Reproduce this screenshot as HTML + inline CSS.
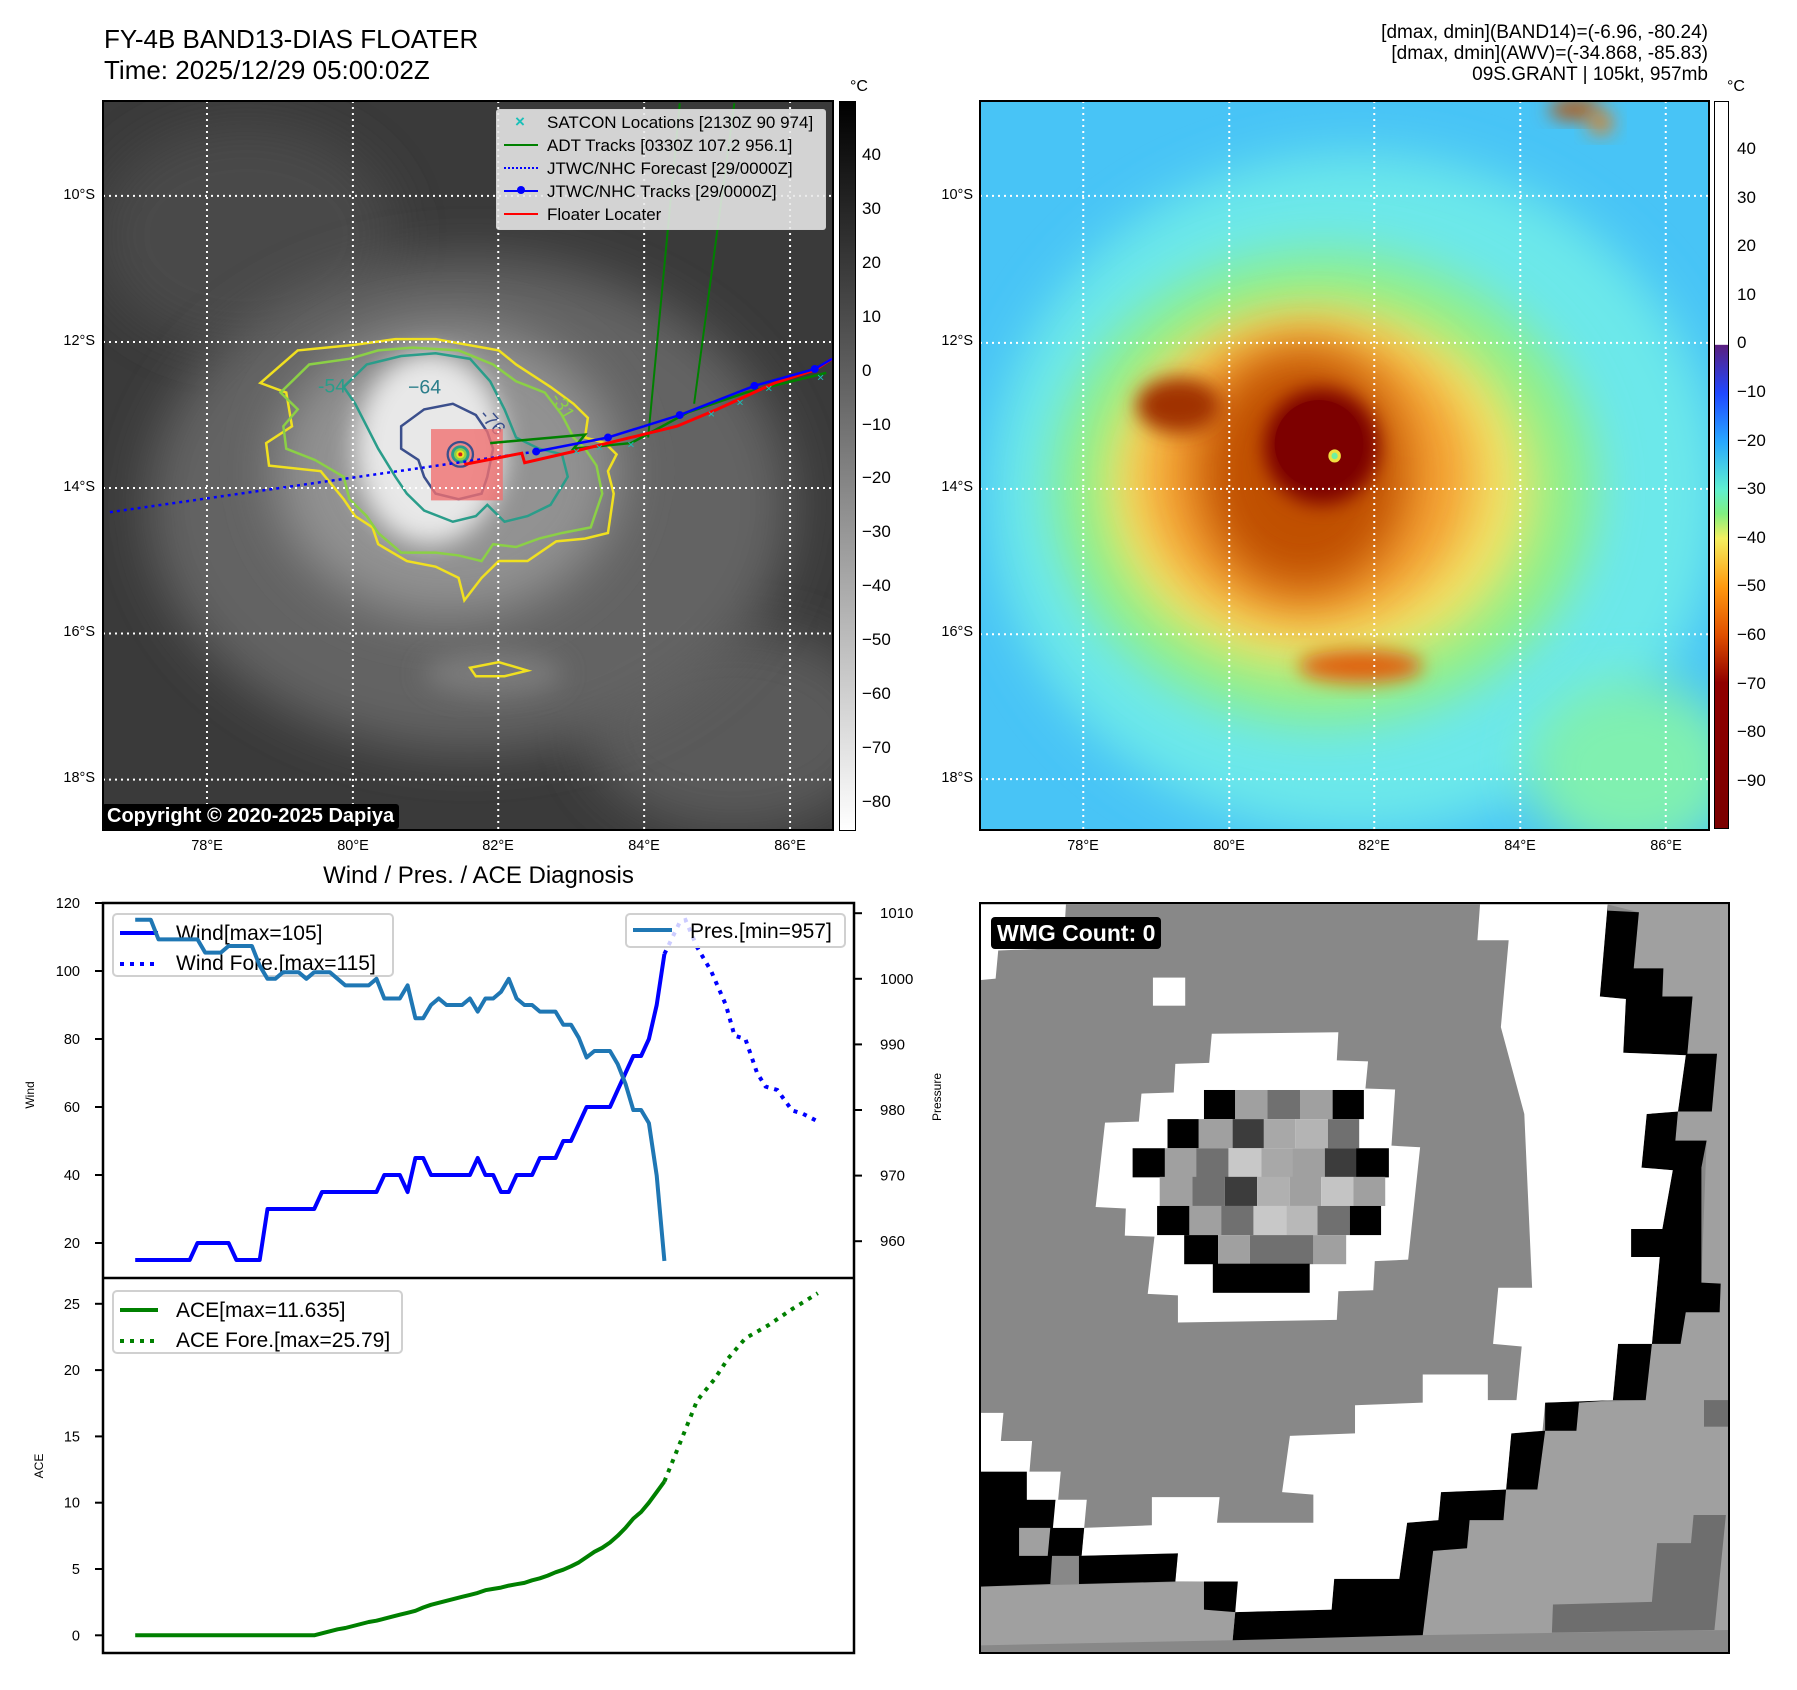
<!DOCTYPE html>
<html><head><meta charset="utf-8">
<style>
body{margin:0;background:#fff;}
#root{position:relative;width:1797px;height:1690px;overflow:hidden;background:#fff;font-family:"Liberation Sans","DejaVu Sans",sans-serif;color:#000;}
.t{position:absolute;white-space:nowrap;}
.frame{position:absolute;border:2.5px solid #000;box-sizing:border-box;}
.sm{font-size:14.5px;}
.cb{font-size:17px;}
</style></head>
<body>
<div id="root">

<div class="t" style="left:104px;top:24px;font-size:26px;line-height:31px;">FY-4B BAND13-DIAS FLOATER<br>Time: 2025/12/29 05:00:02Z</div>
<div class="t" style="right:89px;top:22px;font-size:19px;line-height:21px;text-align:right;">[dmax, dmin](BAND14)=(-6.96, -80.24)<br>[dmax, dmin](AWV)=(-34.868, -85.83)<br>09S.GRANT | 105kt, 957mb</div>

<!-- LEFT MAP -->
<svg style="position:absolute;left:103px;top:101px" width="729" height="728" viewBox="181 181 1269 1296" preserveAspectRatio="none">
<defs>
<filter id="b40" x="-50%" y="-50%" width="200%" height="200%"><feGaussianBlur stdDeviation="45"/></filter>
<filter id="b20" x="-50%" y="-50%" width="200%" height="200%"><feGaussianBlur stdDeviation="22"/></filter>
</defs>
<rect x="181" y="181" width="1269" height="1296" fill="#3a3a3a"/>
<ellipse cx="430" cy="420" rx="260" ry="200" fill="#4a4a4a" filter="url(#b40)"/>
<ellipse cx="1280" cy="1300" rx="260" ry="180" fill="#5a5a5a" filter="url(#b40)"/>
<ellipse cx="820" cy="900" rx="560" ry="440" fill="#646464" filter="url(#b40)"/>
<ellipse cx="780" cy="840" rx="300" ry="260" fill="#929292" filter="url(#b40)"/>
<ellipse cx="750" cy="800" rx="130" ry="170" fill="#e8e8e8" filter="url(#b20)"/>
<ellipse cx="860" cy="1200" rx="120" ry="40" fill="#7a7a7a" filter="url(#b20)"/>
<g fill="none" stroke-width="2.5" vector-effect="non-scaling-stroke">
<polygon stroke="#f0e020" vector-effect="non-scaling-stroke" points="455,683 520,625 620,615 690,605 760,605 870,625 900,650 960,690 1000,720 1025,745 1020,780 1055,790 1075,810 1060,840 1070,880 1060,950 1020,960 970,965 920,1000 870,1000 840,1030 810,1070 800,1030 760,1010 710,1000 660,970 650,940 620,920 600,890 560,840 470,830 465,790 510,760 500,700"/>
<polygon stroke="#8bd046" vector-effect="non-scaling-stroke" points="490,700 540,650 610,640 660,625 720,620 800,625 860,650 900,680 950,700 980,740 1000,780 1020,800 1040,830 1050,880 1030,940 980,950 940,960 900,975 860,970 840,1000 800,990 760,985 700,985 660,950 640,920 610,890 600,850 550,820 500,800 495,760 520,730"/>
<polygon stroke="#2a9d8a" vector-effect="non-scaling-stroke" points="600,690 640,650 700,635 760,630 820,640 855,680 880,730 900,780 940,800 980,810 990,850 960,900 920,920 880,930 850,900 830,920 790,930 740,910 710,880 690,850 660,800 640,760 620,720"/>
<polygon stroke="#3b4f8c" vector-effect="non-scaling-stroke" points="700,760 740,730 790,720 830,740 850,770 860,800 850,850 840,880 800,890 760,880 740,850 730,820 700,800"/>
<polygon stroke="#f0e020" vector-effect="non-scaling-stroke" points="820,1190 870,1180 920,1195 880,1205 830,1205"/>
</g>
<g fill="#3b6f8c" font-size="34" font-family="Liberation Sans, sans-serif">
<text x="555" y="700" fill="#2a9d8a">-54</text><text x="712" y="702" fill="#2a7d8a">−64</text>
<text x="820" y="748" fill="#3b4f8c" transform="rotate(50 835 760)">-76</text><text x="950" y="715" fill="#8bd046" transform="rotate(60 960 720)">-31</text>
</g>
<rect x="752" y="765" width="125" height="127" fill="#f07070" opacity="0.8"/>
<circle cx="803" cy="810" r="22" fill="none" stroke="#3b4f8c" stroke-width="4"/>
<circle cx="803" cy="810" r="16" fill="#2a9d8a"/><circle cx="803" cy="810" r="11" fill="#8bd046"/><circle cx="803" cy="810" r="7" fill="#f0e020"/><circle cx="803" cy="810" r="3.5" fill="#d02020"/>
<g stroke="#fff" stroke-width="2" stroke-dasharray="2 4" vector-effect="non-scaling-stroke">
<line x1="362" y1="181" x2="362" y2="1477" vector-effect="non-scaling-stroke"/><line x1="616" y1="181" x2="616" y2="1477" vector-effect="non-scaling-stroke"/><line x1="869" y1="181" x2="869" y2="1477" vector-effect="non-scaling-stroke"/><line x1="1123" y1="181" x2="1123" y2="1477" vector-effect="non-scaling-stroke"/><line x1="1377" y1="181" x2="1377" y2="1477" vector-effect="non-scaling-stroke"/>
<line x1="181" y1="350" x2="1450" y2="350" vector-effect="non-scaling-stroke"/><line x1="181" y1="610" x2="1450" y2="610" vector-effect="non-scaling-stroke"/><line x1="181" y1="870" x2="1450" y2="870" vector-effect="non-scaling-stroke"/><line x1="181" y1="1129" x2="1450" y2="1129" vector-effect="non-scaling-stroke"/><line x1="181" y1="1389" x2="1450" y2="1389" vector-effect="non-scaling-stroke"/>
</g>
<g fill="none" vector-effect="non-scaling-stroke">
<polyline stroke="#008000" stroke-width="2" vector-effect="non-scaling-stroke" points="1130,780 1185,185"/>
<polyline stroke="#008000" stroke-width="2" vector-effect="non-scaling-stroke" points="1210,720 1280,185"/>
<polyline stroke="#008000" stroke-width="2.5" vector-effect="non-scaling-stroke" points="855,790 1020,775 1000,800 1100,790 1200,735 1300,700 1440,665"/>
<polyline stroke="#0000ff" stroke-width="2.5" stroke-dasharray="3 4" vector-effect="non-scaling-stroke" points="193,913 935,805"/>
<polyline stroke="#ff0000" stroke-width="3" vector-effect="non-scaling-stroke" points="810,828 910,808 915,825 1000,805 1100,780 1180,760 1250,730 1350,683 1420,660 1450,640"/>
<polyline stroke="#0000ff" stroke-width="2.5" vector-effect="non-scaling-stroke" points="935,805 1060,780 1185,740 1315,688 1420,658 1450,640"/>
</g>
<g fill="#0000ff"><circle cx="935" cy="805" r="7"/><circle cx="1060" cy="780" r="7"/><circle cx="1185" cy="740" r="7"/><circle cx="1315" cy="688" r="7"/><circle cx="1420" cy="658" r="7"/></g>
<g fill="#1ac0b8" font-size="22" text-anchor="middle"><text x="1005" y="812">×</text><text x="1045" y="805">×</text><text x="1100" y="800">×</text><text x="1240" y="745">×</text><text x="1290" y="725">×</text><text x="1340" y="700">×</text><text x="1430" y="680">×</text></g>
</svg>
<div class="frame" style="left:102px;top:100px;width:732px;height:731px;"></div>
<div class="t" style="left:496px;top:109px;width:328px;height:119px;background:rgba(232,232,232,0.88);border:1.5px solid #cfcfcf;border-radius:3px;font-size:17px;">
 <div style="position:absolute;left:18px;top:2px;color:#1ac0b8;font-size:17px;font-weight:bold;">×</div>
 <div style="position:absolute;left:50px;top:3px;">SATCON Locations [2130Z 90 974]</div>
 <div style="position:absolute;left:7px;top:34px;width:34px;border-top:2px solid #008000;"></div>
 <div style="position:absolute;left:50px;top:26px;">ADT Tracks [0330Z 107.2 956.1]</div>
 <div style="position:absolute;left:7px;top:57px;width:34px;border-top:2.5px dotted #0000ff;"></div>
 <div style="position:absolute;left:50px;top:49px;">JTWC/NHC Forecast [29/0000Z]</div>
 <div style="position:absolute;left:7px;top:80px;width:34px;border-top:2px solid #0000ff;"></div>
 <div style="position:absolute;left:20px;top:76px;width:8px;height:8px;border-radius:50%;background:#0000ff;"></div>
 <div style="position:absolute;left:50px;top:72px;">JTWC/NHC Tracks [29/0000Z]</div>
 <div style="position:absolute;left:7px;top:103px;width:34px;border-top:2.5px solid #ff0000;"></div>
 <div style="position:absolute;left:50px;top:95px;">Floater Locater</div>
</div>
<div class="t" style="left:102px;top:804px;height:25px;padding:0 5px;background:#000;color:#fff;font-weight:bold;font-size:20px;line-height:25px;border-radius:3px;">Copyright © 2020-2025 Dapiya</div>
<div class="t sm" style="left:45px;top:187px;width:50px;text-align:right">10°S</div>
<div class="t sm" style="left:45px;top:333px;width:50px;text-align:right">12°S</div>
<div class="t sm" style="left:45px;top:479px;width:50px;text-align:right">14°S</div>
<div class="t sm" style="left:45px;top:624px;width:50px;text-align:right">16°S</div>
<div class="t sm" style="left:45px;top:770px;width:50px;text-align:right">18°S</div>
<div class="t sm" style="left:177px;top:838px;width:60px;text-align:center">78°E</div>
<div class="t sm" style="left:323px;top:838px;width:60px;text-align:center">80°E</div>
<div class="t sm" style="left:468px;top:838px;width:60px;text-align:center">82°E</div>
<div class="t sm" style="left:614px;top:838px;width:60px;text-align:center">84°E</div>
<div class="t sm" style="left:760px;top:838px;width:60px;text-align:center">86°E</div>
<!-- left colorbar -->
<div style="position:absolute;left:839px;top:101px;width:15px;height:728px;border:1px solid #000;background:linear-gradient(#000,#fff);"></div>
<div class="t" style="left:850px;top:78px;font-size:16px">°C</div>
<div id="cbl"></div>

<!-- RIGHT MAP -->
<svg style="position:absolute;left:980px;top:101px" width="728" height="728" viewBox="0 185 1396 1327" preserveAspectRatio="none">
<defs>
<filter id="c40" x="-50%" y="-50%" width="200%" height="200%"><feGaussianBlur stdDeviation="45"/></filter>
<filter id="c20" x="-50%" y="-50%" width="200%" height="200%"><feGaussianBlur stdDeviation="18"/></filter>
</defs>
<rect x="0" y="185" width="1396" height="1327" fill="#48c4f6"/>
<ellipse cx="720" cy="900" rx="700" ry="620" fill="#6ce8ea" filter="url(#c40)"/>
<ellipse cx="1250" cy="1400" rx="200" ry="160" fill="#80f0b0" filter="url(#c40)"/>
<ellipse cx="660" cy="890" rx="520" ry="430" fill="#8ef08a" filter="url(#c40)"/>
<ellipse cx="650" cy="890" rx="410" ry="330" fill="#f2e468" filter="url(#c40)"/>
<ellipse cx="630" cy="870" rx="320" ry="270" fill="#f4a030" filter="url(#c40)"/>
<ellipse cx="620" cy="860" rx="200" ry="220" fill="#c05000" filter="url(#c40)"/>
<ellipse cx="380" cy="740" rx="80" ry="50" fill="#a03000" filter="url(#c20)"/>
<ellipse cx="730" cy="1215" rx="120" ry="30" fill="#e06010" filter="url(#c20)"/>
<ellipse cx="655" cy="815" rx="110" ry="105" fill="#7d0000" filter="url(#c20)"/>
<ellipse cx="650" cy="810" rx="85" ry="80" fill="#7d0000"/>
<circle cx="680" cy="832" r="12" fill="#f0e040"/><circle cx="680" cy="832" r="6" fill="#70f0a0"/>
<ellipse cx="1140" cy="200" rx="50" ry="18" fill="#c05000" filter="url(#c20)"/>
<ellipse cx="1190" cy="225" rx="25" ry="20" fill="#e08020" filter="url(#c20)"/>
<g stroke="#fff" stroke-width="2" stroke-dasharray="2 4">
<line x1="198" y1="185" x2="198" y2="1512" vector-effect="non-scaling-stroke"/><line x1="478" y1="185" x2="478" y2="1512" vector-effect="non-scaling-stroke"/><line x1="756" y1="185" x2="756" y2="1512" vector-effect="non-scaling-stroke"/><line x1="1036" y1="185" x2="1036" y2="1512" vector-effect="non-scaling-stroke"/><line x1="1315" y1="185" x2="1315" y2="1512" vector-effect="non-scaling-stroke"/>
<line x1="0" y1="358" x2="1396" y2="358" vector-effect="non-scaling-stroke"/><line x1="0" y1="626" x2="1396" y2="626" vector-effect="non-scaling-stroke"/><line x1="0" y1="892" x2="1396" y2="892" vector-effect="non-scaling-stroke"/><line x1="0" y1="1157" x2="1396" y2="1157" vector-effect="non-scaling-stroke"/><line x1="0" y1="1421" x2="1396" y2="1421" vector-effect="non-scaling-stroke"/>
</g>
</svg>
<div class="frame" style="left:979px;top:100px;width:731px;height:731px;"></div>
<div class="t sm" style="left:923px;top:187px;width:50px;text-align:right">10°S</div>
<div class="t sm" style="left:923px;top:333px;width:50px;text-align:right">12°S</div>
<div class="t sm" style="left:923px;top:479px;width:50px;text-align:right">14°S</div>
<div class="t sm" style="left:923px;top:624px;width:50px;text-align:right">16°S</div>
<div class="t sm" style="left:923px;top:770px;width:50px;text-align:right">18°S</div>
<div class="t sm" style="left:1053px;top:838px;width:60px;text-align:center">78°E</div>
<div class="t sm" style="left:1199px;top:838px;width:60px;text-align:center">80°E</div>
<div class="t sm" style="left:1344px;top:838px;width:60px;text-align:center">82°E</div>
<div class="t sm" style="left:1490px;top:838px;width:60px;text-align:center">84°E</div>
<div class="t sm" style="left:1636px;top:838px;width:60px;text-align:center">86°E</div>
<div style="position:absolute;left:1714px;top:101px;width:15px;height:728px;border:1px solid #000;box-sizing:border-box;background:linear-gradient(#fff 0%,#fff 33.4%,#5a1f80 33.5%,#2048ff 40.1%,#28a8ff 46.8%,#60f0d0 53.4%,#80f080 56.7%,#f4f060 60.1%,#ff9a10 66.7%,#e05000 73.4%,#900000 80%,#7a0000 100%);"></div>
<div class="t" style="left:1727px;top:78px;font-size:16px">°C</div>
<div id="cbr"></div>

<!-- LOWER LEFT CHART -->
<div class="t" style="left:103px;width:751px;top:862px;text-align:center;font-size:24px;">Wind / Pres. / ACE Diagnosis</div>
<svg id="chart" style="position:absolute;left:0;top:0" width="1797" height="1690"></svg>

<!-- LOWER RIGHT WMG -->
<svg style="position:absolute;left:980px;top:903px" width="749" height="750" viewBox="0 27 1438 1468" preserveAspectRatio="none">
<rect x="0" y="27" width="1438" height="1468" fill="#888"/>
<polygon fill="#a0a0a0" points="1205,30 1438,30 1438,1450 850,1460 870,1295 935,1290 940,1235 1005,1235 1010,1175 1070,1175 1085,1060 1145,1060 1150,1005 1278,1000 1290,890 1345,890 1355,828 1420,828 1422,772 1385,770 1395,492 1335,492 1340,435 1405,435 1415,322 1358,322 1368,210 1310,210 1312,155 1255,155 1265,45"/>
<polygon fill="#6e6e6e" points="1100,1400 1290,1395 1300,1280 1365,1280 1370,1225 1432,1225 1410,1450 1098,1455"/>
<rect x="1390" y="1000" width="48" height="52" fill="#6e6e6e"/>
<polygon fill="#000" points="1150,30 1205,30 1205,42 1265,45 1255,155 1312,155 1310,210 1368,210 1358,322 1415,322 1405,435 1340,435 1335,492 1395,492 1385,545 1385,770 1422,772 1420,828 1355,828 1345,890 1290,890 1278,1000 1215,1000 1150,1005 1145,1060 1085,1060 1070,1175 1010,1175 1005,1235 940,1235 935,1290 870,1295 850,1460 485,1470 490,1415 675,1410 680,1350 805,1350 820,1240 880,1235 885,1180 1010,1175 1020,1065 1085,1060 1085,1005 1215,1000 1225,890 1290,890 1305,720 1250,720 1250,665 1310,665 1330,550 1270,545 1280,440 1340,435 1355,325 1235,320 1240,215 1190,210 1205,30"/>
<polygon fill="#fff" points="960,30 1150,30 1205,30 1190,210 1240,215 1235,320 1355,325 1340,435 1280,440 1270,545 1330,550 1310,665 1250,665 1250,720 1305,720 1290,890 1225,890 1215,1000 1085,1005 1080,1060 1020,1065 1010,1175 885,1180 880,1235 820,1240 805,1350 680,1350 675,1410 490,1415 490,1355 375,1355 380,1300 195,1305 200,1250 330,1245 330,1190 460,1190 455,1240 640,1240 640,1185 580,1180 595,1070 720,1065 720,1010 850,1005 850,950 975,950 975,1000 1030,1000 1040,895 985,890 995,780 1060,780 1045,440 1000,270 1015,100 955,100"/>
<polygon fill="#a0a0a0" points="0,1365 430,1355 435,1410 490,1415 485,1470 0,1480"/>
<polygon fill="#000" points="0,1140 90,1140 90,1195 145,1195 135,1360 0,1365"/>
<polygon fill="#000" points="190,1305 380,1300 375,1355 190,1360"/>
<polygon fill="#000" points="135,1250 200,1250 195,1305 135,1305"/>
<polygon fill="#000" points="430,1355 495,1355 490,1415 430,1410"/>
<polygon fill="#a0a0a0" points="75,1250 135,1250 130,1305 75,1305"/>
<polygon fill="#fff" points="0,1025 45,1025 40,1080 100,1080 95,1140 155,1140 150,1195 205,1195 200,1250 140,1250 145,1195 90,1195 90,1140 0,1140"/>
<polygon fill="#fff" points="0,30 165,30 160,115 35,120 30,175 0,178"/>
<rect x="332" y="173" width="62" height="55" fill="#fff"/>
<polygon fill="#fff" points="445,283 688,280 685,335 745,337 740,390 797,392 790,502 845,505 822,725 758,728 755,785 688,787 685,843 380,848 380,795 322,792 335,680 278,678 280,625 222,622 240,457 305,455 310,400 372,398 375,342 440,340"/>
<g id="mosaic"></g>
</svg>
<div class="frame" style="left:979px;top:902px;width:751px;height:752px;"></div>
<div class="t" style="left:991px;top:917px;height:32px;padding:0 6px;background:#000;color:#fff;font-weight:bold;font-size:23px;line-height:32px;border-radius:4px;">WMG Count: 0</div>
</div>

<script>
// ---- chart data ----
const windObs = [15,15,15,15,15,15,15,15,20,20,20,20,20,15,15,15,15,30,30,30,30,30,30,30,35,35,35,35,35,35,35,35,40,40,40,35,45,45,40,40,40,40,40,40,45,40,40,35,35,40,40,40,45,45,45,50,50,55,60,60,60,60,65,70,75,75,80,90,105];
const presObs = [1009,1009,1009,1006,1006,1006,1006,1006,1006,1004,1004,1004,1005,1005,1005,1005,1002,1000,1000,1001,1001,1001,1000,1001,1001,1001,1000,999,999,999,999,1000,997,997,997,999,994,994,996,997,996,996,996,997,995,997,997,998,1000,997,996,996,995,995,995,993,993,991,988,989,989,989,987,984,980,980,978,970,957];
const aceObs = [0,0,0,0,0,0,0,0,0,0,0,0,0,0,0,0,0,0,0,0,0,0,0,0,0.15,0.3,0.45,0.55,0.7,0.85,1.0,1.1,1.25,1.4,1.55,1.7,1.85,2.1,2.3,2.45,2.6,2.75,2.9,3.05,3.2,3.4,3.5,3.6,3.75,3.85,3.95,4.15,4.3,4.5,4.75,4.95,5.2,5.5,5.9,6.3,6.6,7.0,7.5,8.1,8.8,9.3,10.0,10.8,11.6];
const windFcIdx = [68,70,70.7,72.2,74,75.9,77,78.4,79.9,81,82.5,84.4,85.8,87.5];
const windFc = [105,114.5,115,107,100,90,81,80,70,66,65,59,58,56];
const aceFcIdx = [68,70,72.2,74.4,76.2,78.4,81.4,84.4,87.7];
const aceFc = [11.6,14.5,17.7,19.3,20.9,22.4,23.4,24.6,25.8];
const windTicks = [20,40,60,80,100,120];
const presTicks = [960,970,980,990,1000,1010];
const aceTicks = [0,5,10,15,20,25];
const cbLeftTicks = [40,30,20,10,0,-10,-20,-30,-40,-50,-60,-70,-80];
const cbRightTicks = [40,30,20,10,0,-10,-20,-30,-40,-50,-60,-70,-80,-90];

const NS='http://www.w3.org/2000/svg';
const svg=document.getElementById('chart');
const X=i=>135.2+i*7.783;
const YW=v=>903+(120-v)*3.40;
const YP=v=>913.2+(1010-v)*6.56;
const YA=v=>1635.3-v*13.26;
function el(tag,attrs,parent){const e=document.createElementNS(NS,tag);for(const k in attrs)e.setAttribute(k,attrs[k]);(parent||svg).appendChild(e);return e;}
function pts(xs,ys,fx,fy){return xs.map((x,i)=>fx(x).toFixed(1)+','+fy(ys[i]).toFixed(1)).join(' ');}
const idx=windObs.map((_,i)=>i);

let f=el('rect',{x:103,y:903,width:751,height:750,fill:'none',stroke:'#000','stroke-width':2.5});


el('line',{x1:103,y1:1278,x2:854,y2:1278,stroke:'#000','stroke-width':2.5});

function tickL(y,label,name){
  el('line',{x1:95,y1:y,x2:103,y2:y,stroke:'#000','stroke-width':2});
  const t=el('text',{x:80,y:y+5,'text-anchor':'end','font-size':14.5,'font-family':'Liberation Sans, sans-serif'});t.textContent=label;
  
  
}
windTicks.forEach(v=>tickL(YW(v),v,'wind-tick-label'));
aceTicks.forEach(v=>tickL(YA(v),v,'ace-tick-label'));
presTicks.forEach(v=>{
  const y=YP(v);
  el('line',{x1:854,y1:y,x2:862,y2:y,stroke:'#000','stroke-width':2});
  const t=el('text',{x:880,y:y+5,'font-size':15,'font-family':'Liberation Sans, sans-serif'});t.textContent=v;
  
  
});
function vlabel(x,y,s,name){const t=el('text',{x:x,y:y,'font-size':12,'text-anchor':'middle','font-family':'Liberation Sans, sans-serif',transform:`rotate(-90 ${x} ${y})`});t.textContent=s;
  
  }
vlabel(34,1095,'Wind','wind-axis-title');
vlabel(941,1097,'Pressure','pressure-axis-title');
vlabel(43,1466,'ACE','ace-axis-title');

let w=el('polyline',{points:pts(idx,windObs,X,YW),fill:'none',stroke:'#0000ff','stroke-width':4,'stroke-linejoin':'round'});


let wf=el('polyline',{points:pts(windFcIdx,windFc,X,YW),fill:'none',stroke:'#0000ff','stroke-width':4,'stroke-dasharray':'4 6'});


let lg=el('rect',{x:113,y:914,width:280,height:62,rx:4,fill:'rgba(255,255,255,0.8)',stroke:'#d0d0d0','stroke-width':2});


el('line',{x1:120,y1:933,x2:158,y2:933,stroke:'#0000ff','stroke-width':4});
el('line',{x1:120,y1:964,x2:158,y2:964,stroke:'#0000ff','stroke-width':4,'stroke-dasharray':'4 6'});
let t1=el('text',{x:176,y:940,'font-size':21,'font-family':'Liberation Sans, sans-serif'});t1.textContent='Wind[max=105]';
let t2=el('text',{x:176,y:970,'font-size':21,'font-family':'Liberation Sans, sans-serif'});t2.textContent='Wind Fore.[max=115]';
let p=el('polyline',{points:pts(idx,presObs,X,YP),fill:'none',stroke:'#1f77b4','stroke-width':4,'stroke-linejoin':'round'});


let lp=el('rect',{x:626,y:914,width:219,height:33,rx:4,fill:'rgba(255,255,255,0.8)',stroke:'#d0d0d0','stroke-width':2});


el('line',{x1:633,y1:930,x2:672,y2:930,stroke:'#1f77b4','stroke-width':4});
let t3=el('text',{x:690,y:938,'font-size':21,'font-family':'Liberation Sans, sans-serif'});t3.textContent='Pres.[min=957]';

let a=el('polyline',{points:pts(idx,aceObs,X,YA),fill:'none',stroke:'#008000','stroke-width':4,'stroke-linejoin':'round'});


let af=el('polyline',{points:pts(aceFcIdx,aceFc,X,YA),fill:'none',stroke:'#008000','stroke-width':4,'stroke-dasharray':'4 6'});


let la=el('rect',{x:113,y:1291,width:289,height:62,rx:4,fill:'rgba(255,255,255,0.8)',stroke:'#d0d0d0','stroke-width':2});


el('line',{x1:120,y1:1310,x2:158,y2:1310,stroke:'#008000','stroke-width':4});
el('line',{x1:120,y1:1341,x2:158,y2:1341,stroke:'#008000','stroke-width':4,'stroke-dasharray':'4 6'});
let t4=el('text',{x:176,y:1317,'font-size':21,'font-family':'Liberation Sans, sans-serif'});t4.textContent='ACE[max=11.635]';
let t5=el('text',{x:176,y:1347,'font-size':21,'font-family':'Liberation Sans, sans-serif'});t5.textContent='ACE Fore.[max=25.79]';

const root=document.getElementById('root');
function cbTick(x,y,v,name){
  const d=document.createElement('div');d.className='t cb';d.style.left=x+'px';d.style.top=(y-11)+'px';d.textContent=String(v).replace('-','−');
  
  
  root.appendChild(d);
}
cbLeftTicks.forEach(v=>cbTick(862,156+(40-v)*5.39,v,'band13-colorbar-tick'));
cbRightTicks.forEach(v=>cbTick(1737,150+(40-v)*4.86,v,'awv-colorbar-tick'));

const mosaicRows=[
 [393,[[430,'#000'],[490,'#a0a0a0'],[552,'#707070'],[615,'#a0a0a0'],[677,'#000'],[737,null]]],
 [450,[[360,'#000'],[420,'#a0a0a0'],[485,'#3c3c3c'],[545,'#a8a8a8'],[605,'#b4b4b4'],[668,'#707070'],[728,null]]],
 [507,[[293,'#000'],[355,'#a0a0a0'],[415,'#707070'],[477,'#c8c8c8'],[540,'#a8a8a8'],[600,'#a0a0a0'],[662,'#3c3c3c'],[722,'#000'],[785,null]]],
 [563,[[345,'#a0a0a0'],[408,'#707070'],[470,'#3c3c3c'],[532,'#b0b0b0'],[595,'#a0a0a0'],[655,'#c4c4c4'],[717,'#a0a0a0'],[778,null]]],
 [620,[[340,'#000'],[402,'#a0a0a0'],[463,'#707070'],[525,'#c8c8c8'],[588,'#b8b8b8'],[648,'#707070'],[710,'#000'],[770,null]]],
 [677,[[392,'#000'],[457,'#a0a0a0'],[518,'#707070'],[640,'#a0a0a0'],[703,null]]],
 [733,[[447,'#000'],[633,null]]]
];
const mg=document.getElementById('mosaic');
mosaicRows.forEach(([y,cells])=>{for(let k=0;k<cells.length-1;k++){el('rect',{x:cells[k][0],y:y,width:cells[k+1][0]-cells[k][0],height:57,fill:cells[k][1]},mg);}});
</script>
</body></html>
